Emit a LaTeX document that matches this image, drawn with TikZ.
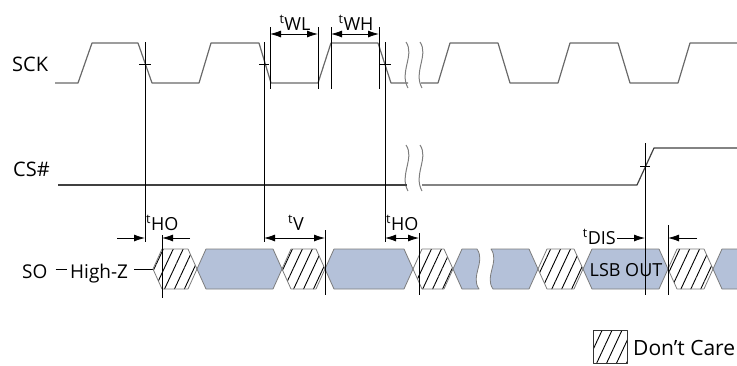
\documentclass[tikz,border=0pt]{standalone}
\usepackage{fontspec}
\setmainfont{Open Sans}
\usetikzlibrary{arrows.meta,patterns.meta}

\definecolor{busblue}{RGB}{180,193,217}
\definecolor{wavegray}{RGB}{105,105,105}
\definecolor{edgegray}{RGB}{125,125,125}

\tikzset{
    wave/.style={wavegray, line width=1.2pt, line join=round},
    breakmark/.style={edgegray, line width=1pt},
    guide/.style={black, line width=0.8pt},
    dim/.style={guide, -{Latex[length=11pt,width=7pt]}},
    dimboth/.style={guide, {Latex[length=11pt,width=7pt]}-{Latex[length=11pt,width=7pt]}},
    bus/.style={draw=edgegray, fill=busblue, line width=0.8pt, line join=round},
    dc/.style={draw=edgegray, line width=0.8pt, line join=round,
        pattern={Lines[angle=65,distance=9pt,line width=0.9pt]}},
    siglabel/.style={font=\fontsize{20}{24}\selectfont, inner sep=0pt},
    lbl/.style={font=\fontsize{19}{22}\selectfont, inner sep=0pt},
    tlabel/.style={font=\fontsize{18}{21}\selectfont, inner sep=0pt},
}

% bus cell between two crossing points
\newcommand{\buscell}[3]{\path[#1] (#2,269) -- (#2+9,249) -- (#3-9,249) -- (#3,269) -- (#3-9,289) -- (#2+9,289) -- cycle;}
\newcommand{\tsub}[1]{\textsuperscript{t}#1}

\begin{document}
\begin{tikzpicture}[x=1pt, y=-1pt]
    \useasboundingbox (0,0) rectangle (737,365);
    \clip (0,0) rectangle (737,365);

    % signal names
    \node[siglabel, anchor=base west] (sck) at (12,71) {SCK};
    \node[siglabel, anchor=base west] (cs) at (13,176) {CS\#};
    \node[lbl, anchor=base west] (so) at (22,278) {SO};
    \node[lbl, anchor=base west] (hiz) at (70,278) {High-Z};

    % SCK
    \draw[wave] (55,83) -- (78,83) -- (92,43) -- (138,43) -- (152,83) -- (199,83) -- (211,43)
        -- (259,43) -- (271,83) -- (318,83) -- (331,43) -- (378,43) -- (391,83) -- (408,83);
    \draw[wave] (421,83) -- (438,83) -- (450,43) -- (498,43) -- (510,83) -- (558,83) -- (570,43)
        -- (618,43) -- (630,83) -- (678,83) -- (690,43) -- (745,43);
    \foreach \x in {406,420} {
        \draw[breakmark] (\x,42) .. controls (\x+9,55) and (\x-7,72) .. (\x+2,88);
        \draw[breakmark] (\x,145) .. controls (\x+9,158) and (\x-7,175) .. (\x+2,191);
    }

    % CS#
    \draw[wave, black!75] (58,185) -- (407,185);
    \draw[wave, black!75] (422,185) -- (637,185) -- (654,148) -- (745,148);

    % SO bus
    \coordinate (dcstart) at (153,269);
    \draw[guide, shorten <=8pt, shorten >=3pt] (so.east |- dcstart) -- (hiz.west |- dcstart);
    \draw[guide, shorten <=6pt] (hiz.east |- dcstart) -- (dcstart);
    \buscell{dc}{153}{197}
    \buscell{bus}{197}{282}
    \buscell{dc}{282}{325}
    \buscell{bus}{325}{413}
    \buscell{dc}{413}{453}
    \path[bus] (453,269) -- (462,249) -- (477,249) .. controls (486,262) and (470,276) .. (479,289)
        -- (462,289) -- cycle;
    \path[bus] (491,249) -- (529,249) -- (538,269) -- (529,289) -- (493,289)
        .. controls (484,276) and (500,262) .. (491,249) -- cycle;
    \buscell{dc}{538}{583}
    \buscell{bus}{583}{668}
    \buscell{dc}{668}{713}
    \buscell{bus}{713}{780}
    \node[tlabel] (lsb) at (626,270) {LSB OUT};

    % edges and ticks
    \foreach \x in {145,264,385} {
        \draw[guide] (\x,42) -- (\x,242);
    }
    \draw[guide] (139,64) -- (151,64);
    \draw[guide] (259,64) -- (269,64);
    \draw[guide] (379,64) -- (391,64);
    \draw[guide] (645,143) -- (645,295);
    \draw[guide] (640,166) -- (650,166);

    % tWL, tWH
    \foreach \x in {270,318,331,379} {
        \draw[guide] (\x,27) -- (\x,89);
    }
    \draw[dimboth] (270,34) -- (318,34);
    \draw[dimboth] (331,34) -- (379,34);
    \node[tlabel, anchor=base] (twl) at (295,30) {\tsub{WL}};
    \node[tlabel, anchor=base] (twh) at (356,30) {\tsub{WH}};

    % output timing
    \draw[guide] (162,235) -- (162,298);
    \draw[guide] (325,230) -- (325,295);
    \draw[guide] (419,233) -- (419,295);
    \draw[guide] (668,225) -- (668,295);
    \draw[dim] (117,238) -- (145,238);
    \draw[dim] (190,238) -- (162,238);
    \draw[dimboth] (264,238) -- (325,238);
    \draw[dimboth] (385,238) -- (419,238);
    \draw[dim] (617,238) -- (645,238);
    \draw[dim] (697,238) -- (668,238);
    \node[tlabel, anchor=base west] (tho1) at (146,230) {\tsub{HO}};
    \node[tlabel, anchor=base] (tv) at (296,230) {\tsub{V}};
    \node[tlabel, anchor=base west] (tho2) at (386,230) {\tsub{HO}};
    \node[tlabel, anchor=base east] (tdis) at (616,244) {\tsub{DIS}};

    % legend
    \path[dc, draw=black!80] (593,330) rectangle (627,363);
    \node[anchor=west, inner sep=0pt, font=\fontsize{21}{25}\selectfont] (dctext) at (633,348) {Don’t Care};
\end{tikzpicture}
\end{document}
